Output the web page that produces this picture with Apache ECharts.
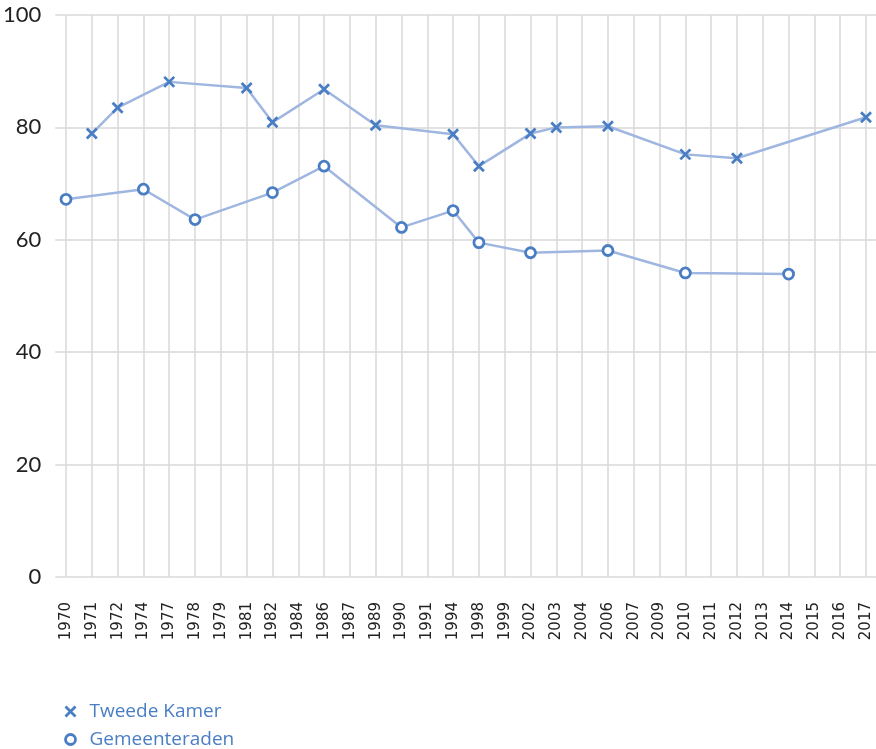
<!DOCTYPE html>
<html><head><meta charset="utf-8">
<script src="https://cdn.jsdelivr.net/npm/echarts@6/dist/echarts.min.js"></script>
<style>html,body{margin:0;padding:0;background:#fff}#c{width:876px;height:749px}</style>
</head><body><div id="c"></div>
<script>
const categories = ['1970','1971','1972','1974','1977','1978','1979','1981','1982','1984','1986','1987','1989','1990','1991','1994','1998','1999','2002','2003','2004','2006','2007','2009','2010','2011','2012','2013','2014','2015','2016','2017'];
const tweedeKamer = [null,78.9,83.5,null,88.1,null,null,87.0,80.9,null,86.8,null,80.4,null,null,78.8,73.1,null,78.9,80.0,null,80.2,null,null,75.2,null,74.5,null,null,null,null,81.8];
const gemeenteraden = [67.2,null,null,69.0,null,63.6,null,null,68.4,null,73.1,null,null,62.2,null,65.2,59.5,null,57.7,null,null,58.1,null,null,54.1,null,null,null,53.9,null,null,null];
const yTicks = [0,20,40,60,80,100];

const FONT = '"Open Sans", "Noto Sans", sans-serif';
const YFONT = 'Lato, sans-serif';
const LINE = '#9fb6e0';
const MARK = '#4a7ec4';
const XPATH = 'path://M0,0L10,10M10,0L0,10';

const chart = echarts.init(document.getElementById('c'));
chart.setOption({
  animation: false,
  textStyle: {fontFamily: FONT},
  grid: [
    {left: 53, right: 0, top: 15, bottom: 172, containLabel: false},
    {left: 66, right: 10, top: 15, bottom: 172, containLabel: false}
  ],
  xAxis: [
    {type: 'value', gridIndex: 0, show: false, min: 0, max: 1},
    {type: 'category', gridIndex: 1, data: categories, boundaryGap: false,
     axisLine: {show: false}, axisTick: {show: false},
     axisLabel: {rotate: 90, color: '#222', fontSize: 15, margin: 25, fontFamily: '"DejaVu Sans", sans-serif'},
     splitLine: {show: true, lineStyle: {color: '#d9d9d9', width: 1.5}}}
  ],
  yAxis: [
    {type: 'value', gridIndex: 0, min: yTicks[0], max: yTicks[yTicks.length-1], interval: 20,
     axisLine: {show: false}, axisTick: {show: false},
     axisLabel: {color: '#222', fontSize: 22, margin: 14, fontFamily: YFONT},
     splitLine: {show: true, lineStyle: {color: '#d9d9d9', width: 1.5}}},
    {type: 'value', gridIndex: 1, min: 0, max: 100, interval: 20, show: false, splitLine: {show: false}}
  ],
  legend: {
    orient: 'vertical', left: 63, top: 702, padding: 0, itemGap: 9, itemWidth: 10, itemHeight: 10,
    textStyle: {color: MARK, fontSize: 19, fontFamily: FONT, padding: [0,0,0,9]},
    data: [
      {name: 'Tweede Kamer', icon: XPATH, itemStyle: {color: 'none', borderColor: MARK, borderWidth: 2.8}},
      {name: 'Gemeenteraden', icon: 'circle', itemStyle: {color: '#fff', borderColor: MARK, borderWidth: 2.8}}
    ]
  },
  series: [
    {name: 'Tweede Kamer', type: 'line', xAxisIndex: 1, yAxisIndex: 1, data: tweedeKamer, connectNulls: true,
     symbol: XPATH, symbolSize: 10, showAllSymbol: true,
     lineStyle: {color: LINE, width: 2.5},
     itemStyle: {color: 'none', borderColor: MARK, borderWidth: 2.8}},
    {name: 'Gemeenteraden', type: 'line', xAxisIndex: 1, yAxisIndex: 1, data: gemeenteraden, connectNulls: true,
     symbol: 'circle', symbolSize: 10, showAllSymbol: true,
     lineStyle: {color: LINE, width: 2.5},
     itemStyle: {color: '#fff', borderColor: MARK, borderWidth: 2.8}}
  ]
});
</script></body></html>
